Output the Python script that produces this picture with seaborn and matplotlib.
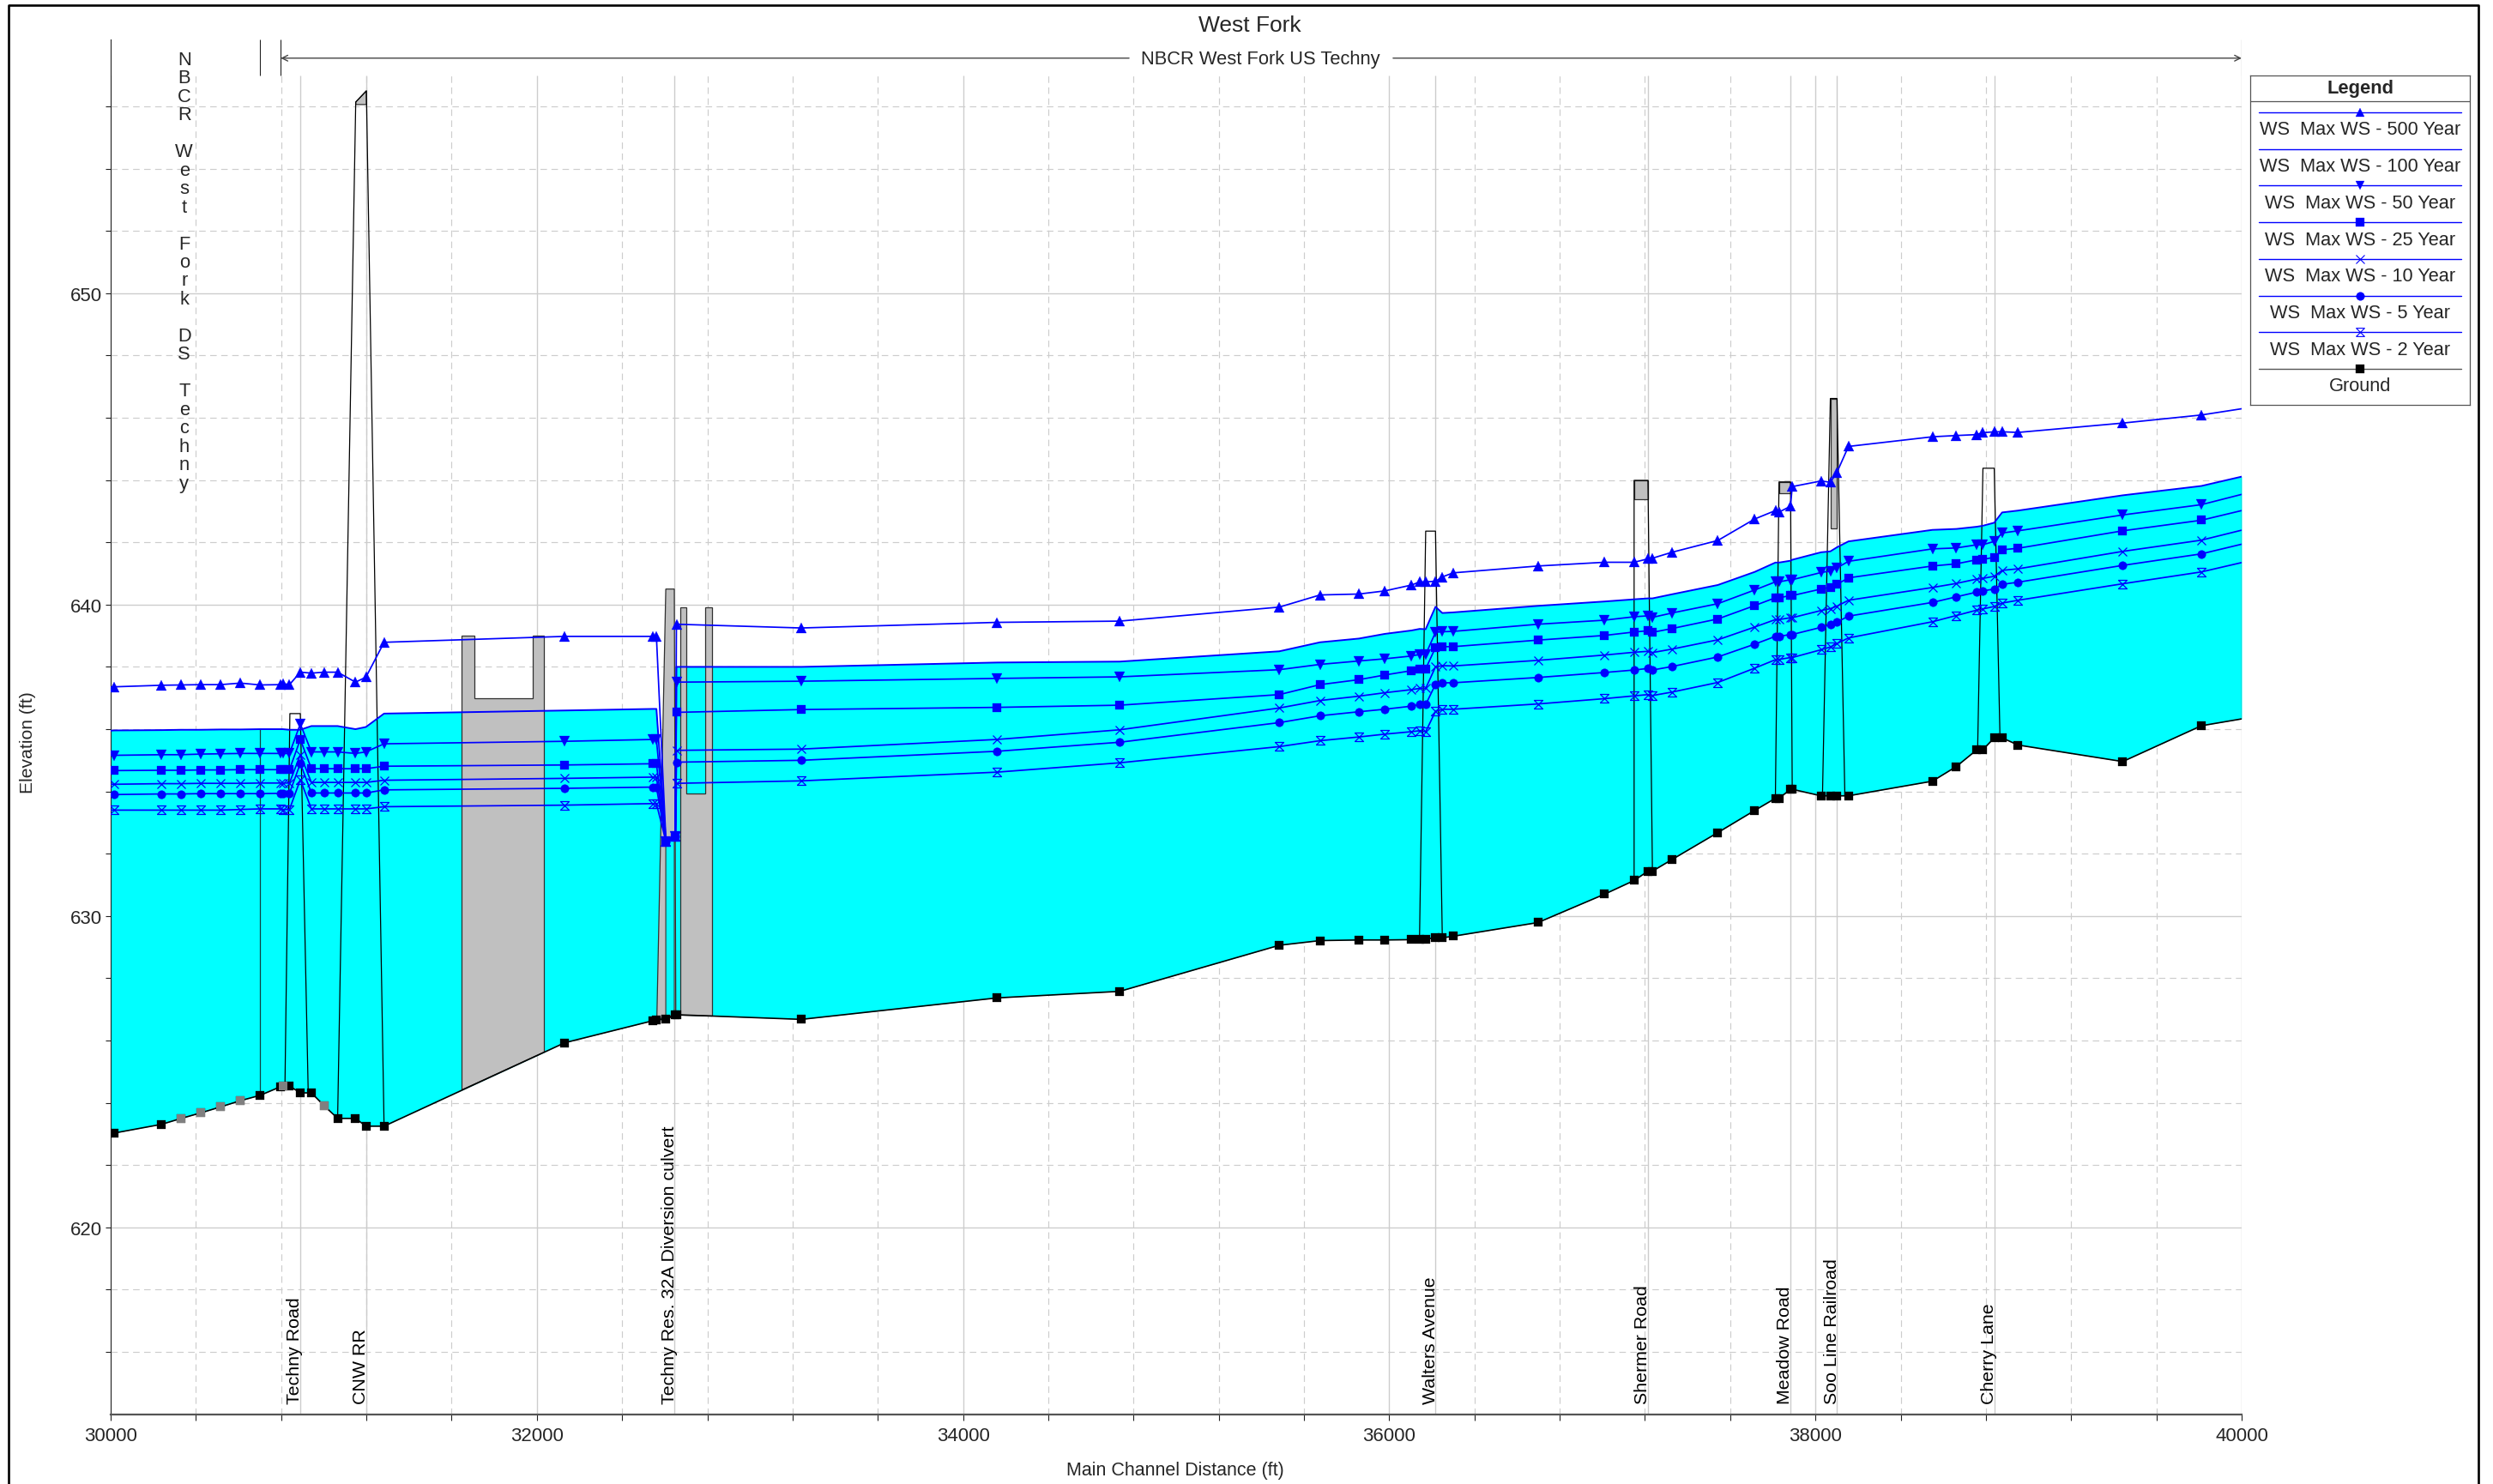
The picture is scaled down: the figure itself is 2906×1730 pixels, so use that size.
import matplotlib
matplotlib.use("Agg")
import matplotlib.pyplot as plt
import numpy as np
import pandas as pd
import seaborn as sns
from matplotlib.lines import Line2D
from matplotlib.path import Path

# River stations (ft), first and last are only the ends of the lines
stations = [30000,
            30017, 30239, 30331, 30424, 30516, 30609, 30701, 30798, 30808, 30839,
            30890, 30942, 31003, 31065, 31149, 31198, 31283, 32131, 32546, 32561,
            32606, 32650, 32655,
            33241, 34160, 34735, 35484, 35675, 35858,
            35979, 36105, 36143, 36171, 36217, 36249, 36300, 36698, 37010, 37149,
            37214, 37235, 37326, 37542, 37715, 37812, 37829, 37883, 37891,
            38026, 38070, 38101, 38155, 38549, 38661, 38756, 38784, 38839, 38876,
            38951, 39442, 39811,
            40000]

ws_500 = [637.35,
          637.36, 637.41, 637.42, 637.43, 637.43, 637.48, 637.42, 637.43, 637.46, 637.43,
          637.83, 637.80, 637.83, 637.83, 637.51, 637.67, 638.79, 638.98, 638.98, 638.98,
          632.38, 632.55, 639.37,
          639.25, 639.43, 639.47, 639.92, 640.31, 640.34,
          640.44, 640.63, 640.73, 640.73, 640.75, 640.89, 641.02, 641.24, 641.36, 641.36,
          641.47, 641.49, 641.68, 642.06, 642.75, 643.02, 642.97, 643.16, 643.79,
          643.97, 643.93, 644.25, 645.08, 645.39, 645.43, 645.46, 645.52, 645.55, 645.55,
          645.53, 645.83, 646.09,
          646.29]
ws_100 = [635.95,
          635.96, 635.97, 635.98, 635.98, 635.99, 635.99, 636.0, 636.0, 636.0, 635.98,
          635.98, 636.1, 636.1, 636.1, 636.0, 636.07, 636.5, 636.6, 636.65, 636.65,
          632.38, 632.55, 638.0,
          638.0, 638.14, 638.17, 638.5, 638.79, 638.91,
          639.06, 639.17, 639.22, 639.21, 639.93, 639.73, 639.75, 639.96, 640.1, 640.17,
          640.2, 640.2, 640.33, 640.63, 641.05, 641.35, 641.35, 641.41, 641.44,
          641.68, 641.71, 641.84, 642.03, 642.4, 642.43, 642.5, 642.53, 642.63, 642.96,
          643.02, 643.51, 643.81,
          644.11]
ws_50 = [635.16,
         635.16, 635.18, 635.18, 635.20, 635.21, 635.22, 635.22, 635.22, 635.22, 635.22,
         636.17, 635.27, 635.27, 635.27, 635.22, 635.27, 635.53, 635.61, 635.67, 635.67,
         632.38, 632.55, 637.51,
         637.54, 637.63, 637.68, 637.91, 638.08, 638.19,
         638.26, 638.35, 638.4, 638.4, 639.11, 639.13, 639.14, 639.37, 639.5, 639.61,
         639.64, 639.59, 639.73, 640.03, 640.47, 640.73, 640.73, 640.8, 640.8,
         641.03, 641.08, 641.18, 641.39, 641.79, 641.82, 641.92, 641.92, 642.03, 642.3,
         642.37, 642.88, 643.21,
         643.54]
ws_25 = [634.67,
         634.67, 634.68, 634.68, 634.69, 634.69, 634.70, 634.70, 634.70, 634.70, 634.70,
         635.67, 634.73, 634.73, 634.73, 634.73, 634.73, 634.81, 634.85, 634.89, 634.89,
         632.38, 632.55, 636.54,
         636.63, 636.7, 636.77, 637.11, 637.43, 637.59,
         637.74, 637.88, 637.94, 637.94, 638.62, 638.65, 638.65, 638.86, 639.01, 639.12,
         639.16, 639.11, 639.23, 639.54, 639.97, 640.22, 640.22, 640.29, 640.29,
         640.5, 640.56, 640.65, 640.86, 641.24, 641.31, 641.44, 641.45, 641.52, 641.76,
         641.81, 642.37, 642.71,
         643.02]
ws_10 = [634.23,
         634.23, 634.25, 634.25, 634.26, 634.26, 634.26, 634.27, 634.27, 634.27, 634.27,
         635.18, 634.29, 634.29, 634.29, 634.29, 634.29, 634.36, 634.42, 634.46, 634.46,
         632.38, 632.55, 635.32,
         635.36, 635.67, 635.98, 636.68, 636.92, 637.06,
         637.17, 637.27, 637.31, 637.31, 638.0, 638.04, 638.03, 638.21, 638.38, 638.47,
         638.5, 638.46, 638.57, 638.87, 639.28, 639.52, 639.52, 639.58, 639.58,
         639.81, 639.87, 639.95, 640.14, 640.55, 640.68, 640.82, 640.84, 640.91, 641.1,
         641.15, 641.71, 642.07,
         642.39]
ws_5 = [633.90,
        633.90, 633.92, 633.92, 633.93, 633.93, 633.93, 633.93, 633.94, 633.94, 633.94,
        634.90, 633.95, 633.95, 633.95, 633.95, 633.95, 634.05, 634.10, 634.14, 634.14,
        632.38, 632.55, 634.94,
        635.0, 635.29, 635.58, 636.21, 636.43, 636.56,
        636.64, 636.74, 636.79, 636.79, 637.44, 637.49, 637.49, 637.66, 637.82, 637.9,
        637.95, 637.9, 638.01, 638.32, 638.73, 638.98, 638.98, 639.04, 639.04,
        639.27, 639.35, 639.44, 639.63, 640.07, 640.25, 640.4, 640.44, 640.5, 640.65,
        640.72, 641.26, 641.63,
        641.94]
ws_2 = [633.40,
        633.40, 633.40, 633.40, 633.40, 633.40, 633.42, 633.44, 633.44, 633.42, 633.42,
        634.38, 633.44, 633.44, 633.44, 633.44, 633.44, 633.51, 633.56, 633.61, 633.61,
        632.38, 632.55, 634.26,
        634.34, 634.62, 634.92, 635.44, 635.63, 635.75,
        635.84, 635.92, 635.95, 635.92, 636.57, 636.64, 636.64, 636.81, 636.98, 637.07,
        637.11, 637.08, 637.19, 637.5, 637.96, 638.23, 638.24, 638.3, 638.3,
        638.55, 638.64, 638.75, 638.93, 639.45, 639.65, 639.82, 639.86, 639.94, 640.05,
        640.14, 640.67, 641.05,
        641.35]
ground = [623.0,
          623.03, 623.31, 623.50, 623.68, 623.87, 624.07, 624.24, 624.52, 624.54, 624.54,
          624.32, 624.32, 623.9, 623.5, 623.5, 623.25, 623.25, 625.93, 626.64, 626.67,
          626.68, 626.83, 626.83,
          626.68, 627.37, 627.58, 629.06, 629.21, 629.23,
          629.23, 629.24, 629.26, 629.26, 629.3, 629.3, 629.35, 629.79, 630.7, 631.14,
          631.44, 631.44, 631.81, 632.68, 633.39, 633.78, 633.78, 634.07, 634.07,
          633.86, 633.86, 633.86, 633.86, 634.33, 634.8, 635.33, 635.33, 635.72, 635.72,
          635.49, 634.96, 636.11,
          636.33]

# Interpolated sections show up grey on the ground line
grey_stations = [30331, 30424, 30516, 30609, 30808, 31003]

# Bridge labels and their reference lines
bridge_names = ["Techny Road", "CNW RR", "Techny Res. 32A Diversion culvert", "Walters Avenue",
                "Shermer Road", "Meadow Road", "Soo Line Railroad", "Cherry Lane"]
bridge_stations = [30890, 31200, 32646, 36217, 37214, 37883, 38101, 38839]

# Bridge outlines
outline_x = [[30818, 30841, 30890, 30927],
             [31065, 31150, 31200, 31283],
             [36142, 36171, 36217, 36249],
             [37149, 37149, 37214, 37235],
             [37812, 37829, 37883, 37891],
             [38033, 38070, 38101, 38138],
             [38761, 38786, 38839, 38866]]
outline_y = [[624.6, 636.5, 636.5, 624.35],
             [623.5, 656.14, 656.5, 623.25],
             [629.26, 642.36, 642.36, 629.3],
             [631.14, 643.99, 643.99, 631.44],
             [633.78, 643.94, 643.94, 634.07],
             [633.88, 646.62, 646.62, 633.88],
             [635.33, 644.38, 644.38, 635.72]]

# Grey decks and embankments
deck_x = [[31150, 31200, 31200, 31150],
          [37149, 37214, 37214, 37149],
          [37829, 37883, 37883, 37829],
          [38070, 38101, 38101, 38070],
          [31647, 31647, 31705, 31705, 31979, 31979, 32034, 32034],
          [32563, 32605, 32645, 32652],
          [32672, 32672, 32701, 32701, 32791, 32791, 32821, 32821]]
deck_y = [[656.14, 656.5, 656.06, 656.06],
          [643.99, 643.99, 643.39, 643.39],
          [643.94, 643.94, 643.58, 643.58],
          [646.62, 646.62, 642.44, 642.44],
          [624.42, 639.0, 639.0, 637.0, 637.0, 639.0, 639.0, 625.63],
          [626.68, 640.5, 640.5, 626.83],
          [626.82, 639.9, 639.9, 633.94, 633.94, 639.9, 639.9, 626.79]]

# Water showing through the culvert openings
opening_x = [[32605, 32605, 32645, 32645], [32701, 32701, 32791, 32791]]
opening_y = [[626.72, 632.38, 632.55, 626.85], [633.94, 638.0, 638.0, 633.94]]

legend_labels = ["WS  Max WS - 500 Year", "WS  Max WS - 100 Year", "WS  Max WS - 50 Year",
                 "WS  Max WS - 25 Year", "WS  Max WS - 10 Year", "WS  Max WS - 5 Year",
                 "WS  Max WS - 2 Year", "Ground"]

hourglass = Path([(-1, -1), (1, -1), (-1, 1), (1, 1), (-1, -1)])
series_names = ["ws_500", "ws_100", "ws_50", "ws_25", "ws_10", "ws_5", "ws_2"]
series_markers = ["^", None, "v", "s", "x", "o", hourglass]

sns.set_theme(style="ticks")
plt.rcParams["font.family"] = "Liberation Sans"

W, H, DPI = 2906, 1731, 200
fig = plt.figure(figsize=(W / DPI, H / DPI), dpi=DPI, facecolor="white")
ax = fig.add_axes([129 / W, (H - 1650) / H, 2484 / W, 1603 / H])
ax.set_xlim(30000, 40000)
ax.set_ylim(613.99, 658.15)
GRID_TOP = 657.0

df = pd.DataFrame({"station": stations, "ws_500": ws_500, "ws_100": ws_100, "ws_50": ws_50,
                   "ws_25": ws_25, "ws_10": ws_10, "ws_5": ws_5, "ws_2": ws_2, "ground": ground})

# Grid stops below the annotation band
grid_c = "#cdcdcd"
ax.hlines(np.arange(620, 651, 10), 30000, 40000, color=grid_c, lw=0.5, zorder=1)
ax.vlines(np.arange(30000, 40001, 2000), 614, GRID_TOP, color=grid_c, lw=0.5, zorder=1)
minor_y = [y for y in range(616, 657, 2) if y % 10 != 0]
minor_x = [x for x in range(30400, 40000, 400) if x % 2000 != 0]
ax.hlines(minor_y, 30000, 40000, color=grid_c, lw=0.42, linestyles=(0, (6.5, 4.5)), zorder=1)
ax.vlines(minor_x, 614, GRID_TOP, color=grid_c, lw=0.42, linestyles=(0, (6.5, 4.5)), zorder=1)
ax.vlines(bridge_stations, 614, GRID_TOP, color="#cccccc", lw=0.5, zorder=1)

# Water body
ax.fill_between(df["station"], df["ground"], df["ws_100"], color="#00ffff", lw=0, zorder=2)
ax.vlines(40000, ground[-1], ws_100[-1], color="black", lw=0.45, zorder=3)

# Grey structures, then openings
for xs, ys in zip(deck_x, deck_y):
    ax.fill(xs, ys, facecolor="#c0c0c0", edgecolor="#303030", lw=0.45, zorder=3)
for xs, ys in zip(opening_x, opening_y):
    ax.fill(xs, ys, facecolor="#00ffff", edgecolor="#303030", lw=0.4, zorder=3)
for xs, ys in zip(outline_x, outline_y):
    ax.plot(xs, ys, color="black", lw=0.45, zorder=3)
ax.vlines(30701, ground[7], ws_100[7], color="#104040", lw=0.45, zorder=3)

# Profiles, without markers on the axis end points
mark_idx = list(range(1, len(stations) - 1))
for name, mk in zip(series_names, series_markers):
    kw = dict(lw=0.62, color="blue", zorder=4)
    if mk is None:
        kw["lw"] = 0.7
    elif mk == "x":
        kw.update(marker="x", markersize=3.6, markeredgecolor="blue", markeredgewidth=0.45, markevery=mark_idx)
    elif isinstance(mk, Path):
        kw.update(marker=mk, markersize=3.6, markerfacecolor="none", markeredgecolor="blue",
                  markeredgewidth=0.45, markevery=mark_idx)
    else:
        size = {"s": 3.3, "o": 3.5}.get(mk, 4.0)
        kw.update(marker=mk, markersize=size, markeredgecolor="blue", markeredgewidth=0.1, markevery=mark_idx)
    sns.lineplot(data=df, x="station", y=name, estimator=None, errorbar=None, sort=False,
                 legend=False, ax=ax, **kw)

sns.lineplot(data=df, x="station", y="ground", estimator=None, errorbar=None, sort=False, legend=False,
             ax=ax, color="black", lw=0.6, marker="s", markersize=3.3, markeredgecolor="black",
             markeredgewidth=0.1, markevery=mark_idx, zorder=5)
grey_df = df[df["station"].isin(grey_stations)]
sns.scatterplot(data=grey_df, x="station", y="ground", marker="s", s=10.5, color="#808080", linewidth=0,
                legend=False, ax=ax, zorder=6)

# Bridge labels sit just left of their reference lines
for name, st in zip(bridge_names, bridge_stations):
    ax.annotate(name, xy=(st, 614.35), xytext=(1.2, 0), textcoords="offset points", rotation=90,
                ha="right", va="bottom", fontsize=7.7, color="black", zorder=7)

# Annotation band at the top
ax.vlines([30701, 30798, 40000], GRID_TOP, 658.15, color="#222222", lw=0.4, zorder=3)
arrow_y = 657.55
arrow_style = dict(arrowstyle="->", color="#444444", lw=0.5, mutation_scale=6, shrinkA=0, shrinkB=0)
ax.annotate("", xy=(30798, arrow_y), xytext=(34779, arrow_y), arrowprops=arrow_style)
ax.annotate("", xy=(40000, arrow_y), xytext=(36018, arrow_y), arrowprops=arrow_style)
ax.text(35395, arrow_y - 0.02, "NBCR West Fork US Techny", ha="center", va="center", fontsize=7.9)
ax.text(30345, 657.8, "\n".join("NBCR West Fork DS Techny"), ha="center", va="top", fontsize=7.9,
        linespacing=1.03, zorder=7)

# Axes
ax.set_xticks(np.arange(30000, 40001, 2000))
ax.set_xticks(minor_x, minor=True)
ax.set_yticks(np.arange(620, 651, 10))
ax.set_yticks(minor_y, minor=True)
ax.tick_params(axis="x", which="both", length=2.5, width=0.4, color="#222222", labelsize=8, pad=2.6)
ax.tick_params(axis="y", which="both", length=2.0, width=0.4, color="#222222", labelsize=8, pad=1.6)
ax.set_xlabel("")
ax.set_ylabel("")
sns.despine(ax=ax, top=True, right=True)
ax.spines["left"].set_linewidth(0.4)
ax.spines["left"].set_color("#222222")
ax.spines["bottom"].set_linewidth(0.8)
ax.spines["bottom"].set_color("#555555")

fig.text(1457 / W, 1 - 30 / H, "West Fork", ha="center", va="center", fontsize=9.5)
fig.text(1370 / W, 1 - 1715 / H, "Main Channel Distance (ft)", ha="center", va="center", fontsize=7.75)
fig.text(32 / W, 1 - 866 / H, "Elevation (ft)", ha="center", va="center", rotation=90, fontsize=7.6)

# Outer frame runs off the bottom of the page
fig.add_artist(Line2D([10 / W, 10 / W, 2889 / W, 2889 / W], [-0.01, 1 - 7 / H, 1 - 7 / H, -0.01],
                      color="black", lw=0.95, transform=fig.transFigure))

# Legend box: line above each label
leg = fig.add_axes([2623 / W, (H - 473) / H, 256 / W, 384 / H])
leg.set_xlim(2623, 2879)
leg.set_ylim(473, 89)
leg.set_xticks([])
leg.set_yticks([])
for s in leg.spines.values():
    s.set_linewidth(0.45)
    s.set_color("#555555")
    s.set_visible(True)
leg.hlines(119, 2623, 2879, color="#555555", lw=0.45)
leg.text(2751, 103.5, "Legend", ha="center", va="center", fontsize=7.9, fontweight="bold")
leg_markers = series_markers + ["s"]
for i, (lab, mk) in enumerate(zip(legend_labels, leg_markers)):
    y = 132 + 42.7 * i
    col = "#555555" if lab == "Ground" else "blue"
    leg.plot([2633, 2869], [y, y], color=col, lw=0.5)
    if mk is not None:
        mc = "black" if lab == "Ground" else "blue"
        filled = mk in ("^", "v", "s", "o")
        leg.plot([2751], [y], marker=mk, markersize=3.5, markeredgecolor=mc, markeredgewidth=0.1 if filled else 0.4,
                 markerfacecolor=mc if filled else "none", linestyle="none")
    leg.text(2751, y + 20, lab, ha="center", va="center", fontsize=7.85)

fig.savefig("out.png", dpi=DPI, facecolor="white")
